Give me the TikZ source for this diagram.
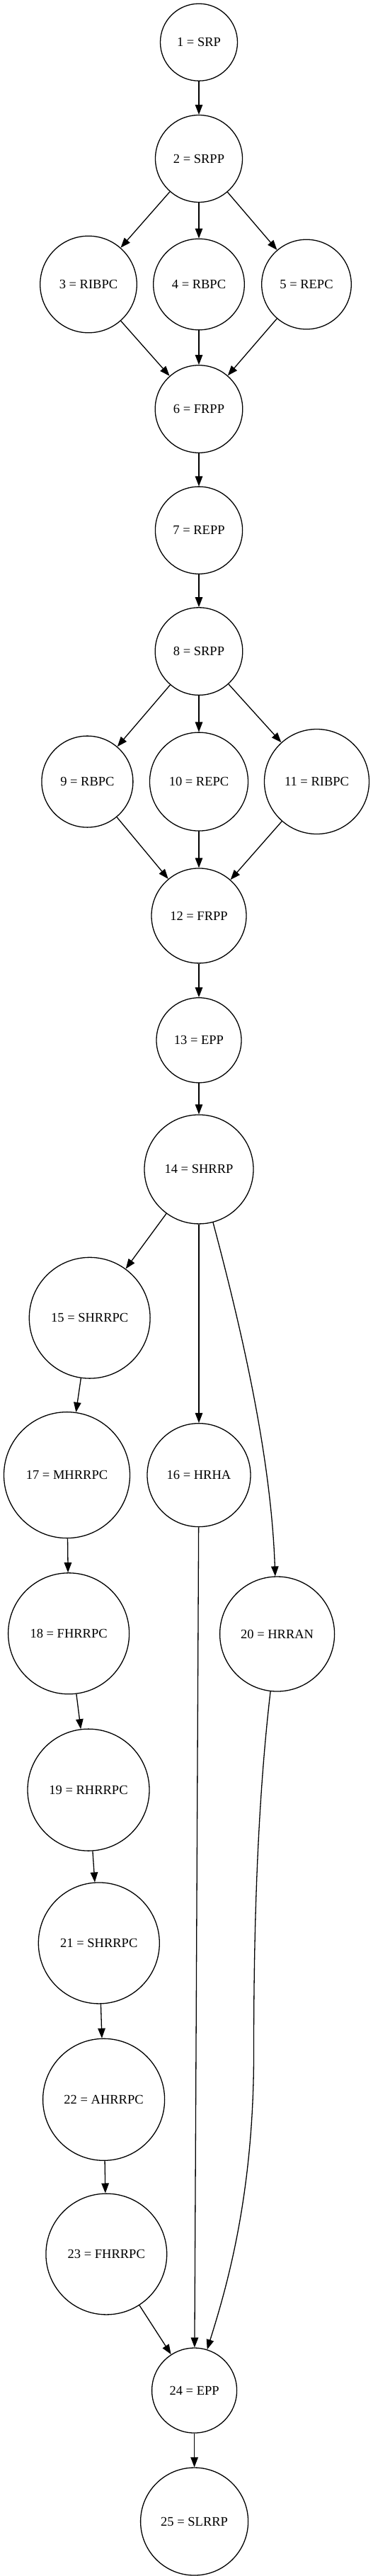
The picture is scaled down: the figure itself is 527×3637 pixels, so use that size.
\documentclass[tikz,border=0pt]{standalone}
\usepackage{fontspec}
\setmainfont{Liberation Serif}
\usetikzlibrary{arrows.meta}
\begin{document}
\begin{tikzpicture}[x=1pt,y=-1pt,
  st/.style={circle,draw,line width=1.3pt,inner sep=0pt,font=\fontsize{18.5}{20}\selectfont},
  edge/.style={line width=1.3pt,-{Triangle[length=14pt,width=10.5pt]}}]
\useasboundingbox (0,0) rectangle (527,3637);
\node[st,minimum size=109pt] (n1) at (281,59.7) {1 = SRP};
\node[st,minimum size=123pt] (n2) at (281,224) {2 = SRPP};
\node[st,minimum size=136.6pt] (n3) at (125,401.5) {3 = RIBPC};
\node[st,minimum size=128.6pt] (n4) at (281,401.5) {4 = RBPC};
\node[st,minimum size=126.6pt] (n5) at (433,401.5) {5 = REPC};
\node[st,minimum size=123.6pt] (n6) at (281,577.5) {6 = FRPP};
\node[st,minimum size=123.2pt] (n7) at (281,748.7) {7 = REPP};
\node[st,minimum size=123.6pt] (n8) at (281,919.6) {8 = SRPP};
\node[st,minimum size=129pt] (n9) at (123.4,1103.6) {9 = RBPC};
\node[st,minimum size=139pt] (n10) at (281,1103.6) {10 = REPC};
\node[st,minimum size=148pt] (n11) at (447.5,1103.5) {11 = RIBPC};
\node[st,minimum size=134pt] (n12) at (281,1292.9) {12 = FRPP};
\node[st,minimum size=120pt] (n13) at (281,1468.7) {13 = EPP};
\node[st,minimum size=154pt] (n14) at (281,1650.9) {14 = SHRRP};
\node[st,minimum size=170.8pt] (n15) at (126.7,1860.7) {15 = SHRRPC};
\node[st,minimum size=146pt] (n16) at (281,2082.6) {16 = HRHA};
\node[st,minimum size=178pt] (n17) at (94.5,2082.6) {17 = MHRRPC};
\node[st,minimum size=171pt] (n18) at (97.1,2306.3) {18 = FHRRPC};
\node[st,minimum size=172pt] (n19) at (125,2527.1) {19 = RHRRPC};
\node[st,minimum size=162pt] (n20) at (391.6,2307) {20 = HRRAN};
\node[st,minimum size=171pt] (n21) at (139.8,2743.4) {21 = SHRRPC};
\node[st,minimum size=172pt] (n22) at (146.6,2964.3) {22 = AHRRPC};
\node[st,minimum size=170.8pt] (n23) at (150.3,3182.5) {23 = FHRRPC};
\node[st,minimum size=120pt] (n24) at (274.6,3375) {24 = EPP};
\node[st,minimum size=152pt] (n25) at (274.6,3560) {25 = SLRRP};
\coordinate (c1) at (358.5,2900);
\draw[edge] (n1) -- (n2);
\draw[edge] (n2) -- (n3);
\draw[edge] (n2) -- (n4);
\draw[edge] (n2) -- (n5);
\draw[edge] (n3) -- (n6);
\draw[edge] (n4) -- (n6);
\draw[edge] (n5) -- (n6);
\draw[edge] (n6) -- (n7);
\draw[edge] (n7) -- (n8);
\draw[edge] (n8) -- (n9);
\draw[edge] (n8) -- (n10);
\draw[edge] (n8) -- (n11);
\draw[edge] (n9) -- (n12);
\draw[edge] (n10) -- (n12);
\draw[edge] (n11) -- (n12);
\draw[edge] (n12) -- (n13);
\draw[edge] (n13) -- (n14);
\draw[edge] (n14) -- (n15);
\draw[edge] (n14) -- (n16);
\draw[edge] (n14) .. controls (341,1876) and (383,2056) .. (n20);
\draw[edge] (n15) -- (n17);
\draw[edge] (n17) -- (n18);
\draw[edge] (n18) -- (n19);
\draw[edge] (n19) -- (n21);
\draw[edge] (n21) -- (n22);
\draw[edge] (n22) -- (n23);
\draw[edge] (n23) -- (n24);
\draw[edge] (n16) -- (n24);
\draw[edge] (n20) .. controls (362,2560) and (358.5,2750) .. (c1) .. controls (358.5,3100) and (320,3230) .. (n24);
\draw[edge] (n24) -- (n25);
\end{tikzpicture}
\end{document}
